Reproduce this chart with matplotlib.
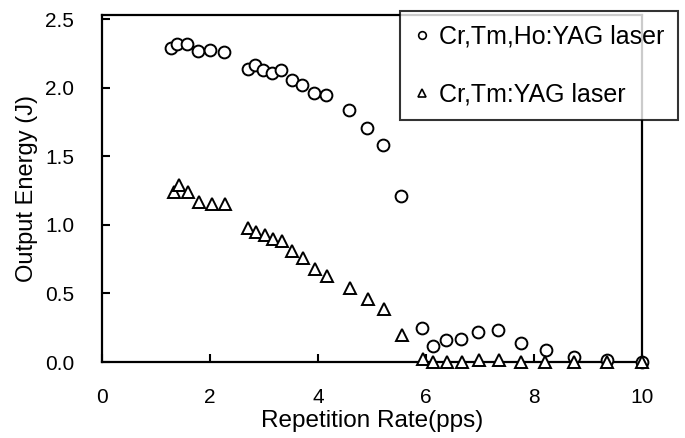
import matplotlib
matplotlib.use('Agg')
import matplotlib.pyplot as plt
from matplotlib.lines import Line2D

# Cr,Tm,Ho:YAG laser
rate_ho = [1.28, 1.39, 1.57, 1.77, 2.00, 2.25, 2.70, 2.84, 2.99, 3.15, 3.32,
           3.52, 3.70, 3.92, 4.15, 4.57, 4.90, 5.21, 5.54,
           5.92, 6.13, 6.38, 6.65, 6.97, 7.34, 7.76, 8.22, 8.75, 9.35, 10.0]
energy_ho = [2.29, 2.32, 2.32, 2.27, 2.28, 2.26, 2.14, 2.17, 2.13, 2.11, 2.13,
             2.06, 2.02, 1.96, 1.95, 1.84, 1.71, 1.58, 1.21,
             0.25, 0.12, 0.16, 0.17, 0.22, 0.23, 0.14, 0.09, 0.04, 0.015, 0.0]

# Cr,Tm:YAG laser
rate_tm = [1.33, 1.43, 1.60, 1.80, 2.03, 2.28, 2.71, 2.86, 3.02, 3.17, 3.33,
           3.52, 3.73, 3.94, 4.17, 4.59, 4.92, 5.22, 5.55,
           5.94, 6.14, 6.39, 6.66, 6.98, 7.35, 7.77, 8.21, 8.75, 9.35, 10.0]
energy_tm = [1.24, 1.29, 1.24, 1.17, 1.15, 1.15, 0.98, 0.95, 0.93, 0.90, 0.88,
             0.81, 0.76, 0.68, 0.63, 0.54, 0.46, 0.39, 0.20,
             0.02, 0.0, 0.0, 0.0, 0.015, 0.015, 0.0, 0.0, 0.0, 0.0, 0.0]

labels = ['Cr,Tm,Ho:YAG laser', 'Cr,Tm:YAG laser']
x_ticks = [0, 2, 4, 6, 8, 10]
y_ticks = [0.0, 0.5, 1.0, 1.5, 2.0, 2.5]

plt.rcParams['font.family'] = ['Liberation Sans', 'DejaVu Sans']

fig = plt.figure(figsize=(6.85, 4.38), dpi=100)
ax = fig.add_axes([0.149, 0.1735, 0.788, 0.7925])

ax.plot(rate_ho, energy_ho, linestyle='none', marker='o', markersize=8.5,
        markerfacecolor='white', markeredgecolor='black', markeredgewidth=1.4,
        clip_on=False, zorder=3)
ax.plot(rate_tm, energy_tm, linestyle='none', marker='^', markersize=8.5,
        markerfacecolor='white', markeredgecolor='black', markeredgewidth=1.4,
        clip_on=False, zorder=3)

ax.set_xlim(0, 10)
ax.set_ylim(0, 2.533)
ax.set_xticks(x_ticks)
ax.set_yticks(y_ticks)
ax.set_yticklabels([f'{v:.1f}' for v in y_ticks])
ax.tick_params(direction='in', length=6, width=1.5, labelsize=15)
ax.tick_params(axis='x', pad=19)
ax.tick_params(axis='y', pad=20)
for s in ax.spines.values():
    s.set_linewidth(1.6)

ax.set_xlabel('Repetition Rate(pps)', fontsize=17.5, labelpad=2)
ax.set_ylabel('Output Energy (J)', fontsize=17, labelpad=5)

handles = [
    Line2D([], [], linestyle='none', marker='o', markersize=5.5,
           markerfacecolor='white', markeredgecolor='black', markeredgewidth=1.2),
    Line2D([], [], linestyle='none', marker='^', markersize=5.5,
           markerfacecolor='white', markeredgecolor='black', markeredgewidth=1.2),
]
leg = fig.legend(handles, labels, loc='upper right',
                 bbox_to_anchor=(0.99, 0.976), fontsize=18,
                 frameon=True, fancybox=False, edgecolor='black',
                 handlelength=0.6, handletextpad=0.4, labelspacing=1.36,
                 borderpad=0.55, borderaxespad=0)
leg.get_frame().set_linewidth(1.5)

fig.savefig('out.png', dpi=100)
